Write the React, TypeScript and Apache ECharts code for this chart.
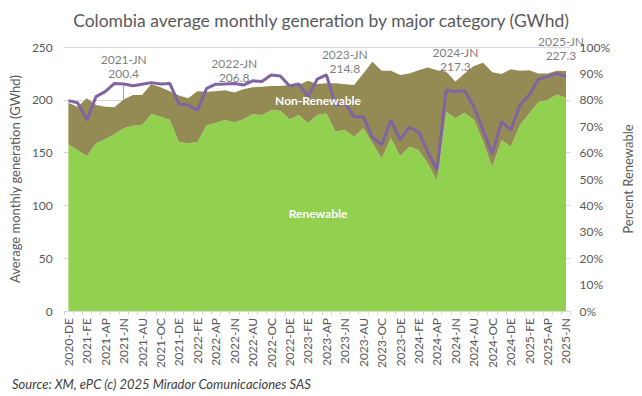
import React, { useEffect, useRef } from "react";
import * as echarts from "echarts";

const months = [
  "2020-DE",
  "2021-JA", "2021-FE", "2021-MR", "2021-AP", "2021-MY", "2021-JN", "2021-JL", "2021-AU", "2021-SE", "2021-OC", "2021-NO", "2021-DE",
  "2022-JA", "2022-FE", "2022-MR", "2022-AP", "2022-MY", "2022-JN", "2022-JL", "2022-AU", "2022-SE", "2022-OC", "2022-NO", "2022-DE",
  "2023-JA", "2023-FE", "2023-MR", "2023-AP", "2023-MY", "2023-JN", "2023-JL", "2023-AU", "2023-SE", "2023-OC", "2023-NO", "2023-DE",
  "2024-JA", "2024-FE", "2024-MR", "2024-AP", "2024-MY", "2024-JN", "2024-JL", "2024-AU", "2024-SE", "2024-OC", "2024-NO", "2024-DE",
  "2025-JA", "2025-FE", "2025-MR", "2025-AP", "2025-MY", "2025-JN",
];

// GWhd
const renewable = [
  158, 152.5, 146.8, 158.8, 162.6, 167.6, 173, 175.5, 176, 186.5, 184, 181, 160,
  158.8, 160, 176, 178, 181, 178.6, 181.5, 186.5, 185.6, 190, 189.6, 181.5,
  185.6, 178, 185.6, 187, 170, 171.4, 165, 173, 158.8, 144.6, 163.5, 146.8,
  155.6, 152.5, 139.8, 123.4, 188.7, 182.5, 187.8, 181, 160.4, 136.7, 162, 155.6,
  176, 187, 198, 199.8, 205, 202,
];

const nonRenewable = [
  39.3, 41, 54.6, 36.2, 30.9, 25.4, 27.4, 29, 28.5, 28.5, 28, 27, 44,
  42.6, 48, 31.7, 30, 28, 28.2, 28.5, 25.3, 26.8, 23, 23.4, 32.5,
  28.4, 40, 29.4, 28.6, 45.6, 43.4, 49, 52, 77.2, 83, 64.1, 76.7,
  69.4, 75.5, 90.9, 104.6, 37.9, 34.8, 37.2, 51, 74.6, 89.3, 62.4, 73.3,
  51.6, 41, 27, 25.2, 22.6, 25.3,
];

// Percent renewable (right axis)
const percentRenewable = [
  79.7, 78.9, 72.3, 81.2, 83.1, 86.2, 86, 85.3, 85.9, 86.5, 86, 86.2, 78.4,
  78, 76.1, 84.3, 85.9, 86, 86.2, 85.6, 87.2, 86.9, 89.4, 89, 85.2,
  86, 81.2, 87.8, 89.4, 78, 78.7, 73.6, 73.6, 65.8, 62.9, 72.3, 64.8,
  69.6, 67.9, 60.3, 53.4, 83.7, 83.1, 83.4, 77.4, 68.6, 59.5, 71.7, 68.6,
  78, 81.8, 87.8, 88.8, 90, 88.8,
];

const juneLabels = ["2021-JN", "2022-JN", "2023-JN", "2024-JN", "2025-JN"];
const juneTotals = [200.4, 206.8, 214.8, 217.3, 227.3];

const leftTicks = { min: 0, max: 250, interval: 50 };
const rightTicks = { min: 0, max: 100, interval: 10 };

const FONT = "Lato, 'Open Sans', sans-serif";
const GRAY = "#595959";

export default function App() {
  const ref = useRef<HTMLDivElement>(null);

  useEffect(() => {
    document.body.style.margin = "0";
    if (!ref.current) return;
    const chart = echarts.init(ref.current, undefined, { renderer: "svg" });

    const annotationData = juneLabels.map((m, i) => ({
      value: [m, juneTotals[i]],
      label: {
        distance: i === 0 ? 18 : 8,
        offset: i === juneLabels.length - 1 ? [-5, 0] : [0, 0],
      },
    }));

    chart.setOption({
      animation: false,
      backgroundColor: "#ffffff",
      textStyle: { fontFamily: FONT },
      title: {
        text: "Colombia average monthly generation by major category (GWhd)",
        left: "center",
        top: 6,
        textStyle: { fontFamily: FONT, fontSize: 17.5, fontWeight: "normal", color: GRAY },
      },
      grid: { left: 57, right: 61, top: 47, bottom: 85, containLabel: false },
      xAxis: {
        type: "category",
        data: months,
        boundaryGap: true,
        axisLine: { show: true, lineStyle: { color: "#d9d9d9" } },
        axisTick: { show: true, interval: 0, length: 4, lineStyle: { color: "#d9d9d9" } },
        axisLabel: {
          interval: 1,
          rotate: 90,
          color: GRAY,
          fontFamily: FONT,
          fontSize: 12,
          margin: 7,
        },
        splitLine: { show: false },
      },
      yAxis: [
        {
          type: "value",
          ...leftTicks,
          name: "Average monthly generation (GWhd)",
          nameLocation: "middle",
          nameRotate: 90,
          nameGap: 40,
          nameTextStyle: { color: GRAY, fontSize: 13, fontFamily: FONT },
          axisLine: { show: false },
          axisTick: { show: false },
          axisLabel: { color: GRAY, fontSize: 12, fontFamily: FONT, margin: 11 },
          splitLine: { show: true, lineStyle: { color: "#d9d9d9", width: 1 } },
        },
        {
          type: "value",
          ...rightTicks,
          position: "right",
          name: "Percent Renewable",
          nameLocation: "middle",
          nameRotate: 90,
          nameGap: 49,
          nameTextStyle: { color: GRAY, fontSize: 13, fontFamily: FONT },
          axisLine: { show: false },
          axisTick: { show: false },
          axisLabel: { color: GRAY, fontSize: 12, fontFamily: FONT, margin: 9, formatter: "{value}%" },
          splitLine: { show: false },
        },
      ],
      series: [
        {
          name: "Renewable",
          type: "line",
          stack: "gen",
          data: renewable,
          symbol: "none",
          lineStyle: { width: 0 },
          areaStyle: { color: "#92D050", opacity: 1 },
          itemStyle: { color: "#92D050" },
          z: 1,
        },
        {
          name: "Non-Renewable",
          type: "line",
          stack: "gen",
          data: nonRenewable,
          symbol: "none",
          lineStyle: { width: 0 },
          areaStyle: { color: "#948A54", opacity: 1 },
          itemStyle: { color: "#948A54" },
          z: 1,
        },
        {
          name: "Percent Renewable",
          type: "line",
          yAxisIndex: 1,
          data: percentRenewable,
          symbol: "none",
          lineStyle: { color: "#8064A2", width: 3 },
          itemStyle: { color: "#8064A2" },
          z: 3,
        },
        {
          name: "June totals",
          type: "scatter",
          data: annotationData,
          symbolSize: 1,
          itemStyle: { color: "rgba(0,0,0,0)" },
          label: {
            show: true,
            position: "top",
            color: GRAY,
            fontSize: 12,
            fontFamily: FONT,
            lineHeight: 14,
            align: "center",
            formatter: (p: any) => `${p.value[0]}\n${p.value[1]}`,
          },
          markLine: {
            silent: true,
            symbol: "none",
            label: { show: false },
            lineStyle: { color: "#a6a6a6", width: 1, type: "solid" },
            data: [[{ coord: [juneLabels[0], juneTotals[0]] }, { coord: [juneLabels[0], 213.5] }]],
          },
          z: 4,
        },
      ],
      graphic: [
        {
          type: "text",
          x: 318,
          y: 100,
          z: 10,
          style: {
            text: "Non-Renewable",
            fill: "#ffffff",
            fontSize: 12,
            fontWeight: "bold",
            fontFamily: FONT,
            align: "center",
            verticalAlign: "middle",
          },
        },
        {
          type: "text",
          x: 318,
          y: 213,
          z: 10,
          style: {
            text: "Renewable",
            fill: "#ffffff",
            fontSize: 12,
            fontWeight: "bold",
            fontFamily: FONT,
            align: "center",
            verticalAlign: "middle",
          },
        },
        {
          type: "text",
          x: 12,
          y: 384,
          z: 10,
          style: {
            text: "Source: XM, ePC (c) 2025 Mirador Comunicaciones SAS",
            fill: "#404040",
            fontSize: 13,
            fontStyle: "italic",
            fontFamily: FONT,
            align: "left",
            verticalAlign: "middle",
          },
        },
      ],
    });

    return () => chart.dispose();
  }, []);

  return <div ref={ref} style={{ width: 642, height: 396 }} />;
}
